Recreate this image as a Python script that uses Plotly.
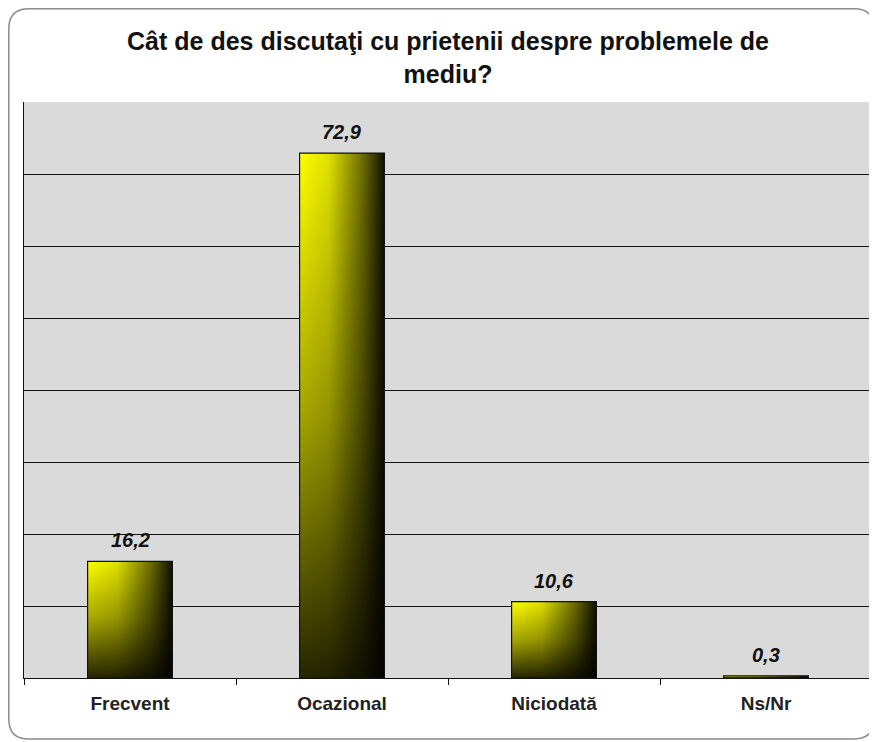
import plotly.graph_objects as go

categories = ["Frecvent", "Ocazional", "Niciodată", "Ns/Nr"]
values = [16.2, 72.9, 10.6, 0.3]
labels = ["16,2", "72,9", "10,6", "0,3"]
title_text = "Cât de des discutaţi cu prietenii despre problemele de<br>mediu?"

# page body has an 8px margin, so the figure is sized to fit the window
W, H = 869, 734
PL, PR, PT, PB = 16, 5, 94, 64
pw, ph = W - PL - PR, H - PT - PB
HALF = 0.2
FONT = "Liberation Sans, Arial, sans-serif"

fig = go.Figure()

for i, v in enumerate(values):
    xs = [i - HALF, i - HALF, i + HALF, i + HALF, i - HALF]
    ys = [0, v, v, 0, 0]
    fig.add_trace(go.Scatter(
        x=xs, y=ys, mode="lines", fill="toself",
        line=dict(color="rgba(0,0,0,0)", width=0),
        fillgradient=dict(type="horizontal",
                          colorscale=[[0, "#ffff00"], [0.35, "#e0e000"], [0.75, "#6a6a00"], [1, "#101000"]]),
        hoverinfo="skip", showlegend=False))
    fig.add_trace(go.Scatter(
        x=xs, y=ys, mode="lines", fill="toself",
        line=dict(color="#111111", width=1.2),
        fillgradient=dict(type="vertical",
                          colorscale=[[0, "rgba(0,0,0,0.85)"], [0.5, "rgba(0,0,0,0.35)"], [1, "rgba(0,0,0,0)"]]),
        hoverinfo="skip", showlegend=False))

annotations = [
    dict(x=i, y=v, xref="x", yref="y", text=lab, showarrow=False,
         yanchor="middle", xanchor="center", yshift=21,
         font=dict(family=FONT, size=20, color="#111111", weight="bold", style="italic"))
    for i, (v, lab) in enumerate(zip(values, labels))
]

# rounded frame around the chart (pixel -> paper)
def px(x):
    return (x - PL) / pw

def py(y):
    return (H - PB - y) / ph

x0, x1, y0, y1, r = 0.8, 866, 0.8, 731, 20
path = (f"M {px(x0+r)} {py(y0)} L {px(x1-r)} {py(y0)} Q {px(x1)} {py(y0)} {px(x1)} {py(y0+r)} "
        f"L {px(x1)} {py(y1-r)} Q {px(x1)} {py(y1)} {px(x1-r)} {py(y1)} "
        f"L {px(x0+r)} {py(y1)} Q {px(x0)} {py(y1)} {px(x0)} {py(y1-r)} "
        f"L {px(x0)} {py(y0+r)} Q {px(x0)} {py(y0)} {px(x0+r)} {py(y0)} Z")

fig.update_layout(
    width=W, height=H,
    margin=dict(l=PL, r=PR, t=PT, b=PB),
    paper_bgcolor="white",
    plot_bgcolor="#dadada",
    title=dict(text=title_text, x=0.5, xref="paper", xanchor="center",
               y=1 - 42 / H, yref="container", yanchor="top",
               font=dict(family=FONT, size=25, color="#111111", weight="bold")),
    annotations=annotations,
    shapes=[dict(type="path", path=path, xref="paper", yref="paper",
                 line=dict(color="#8c8c8c", width=1.5), fillcolor="rgba(0,0,0,0)", layer="below")],
    xaxis=dict(range=[-0.5, 3.5], tickmode="array", tickvals=list(range(len(categories))),
               ticktext=categories, ticks="", showgrid=False, zeroline=False,
               showline=True, linecolor="#111111", linewidth=1, ticklabelstandoff=8,
               tickfont=dict(family=FONT, size=19, color="#222222", weight="bold"),
               minor=dict(tickmode="array", tickvals=[-0.5, 0.5, 1.5, 2.5, 3.5], ticks="outside",
                          ticklen=6, tickcolor="#111111", tickwidth=1, showgrid=False),
               fixedrange=True),
    yaxis=dict(range=[0, 80], dtick=10, showticklabels=False, ticks="",
               showgrid=True, gridcolor="#111111", gridwidth=1, zeroline=False,
               showline=True, linecolor="#111111", linewidth=1, fixedrange=True),
)

fig.write_html("out.html")
